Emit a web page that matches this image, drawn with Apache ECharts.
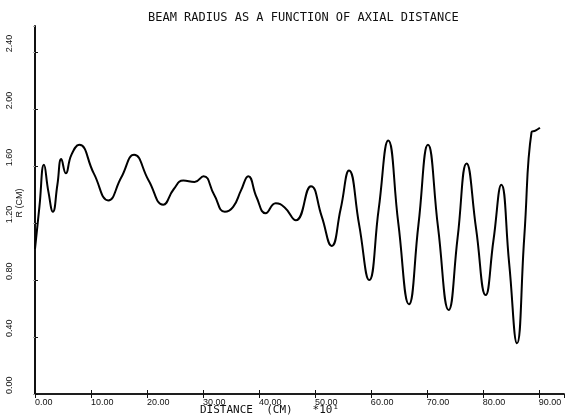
<!DOCTYPE html>
<html>
<head>
<meta charset="utf-8">
<script src="https://cdn.jsdelivr.net/npm/echarts@6/dist/echarts.min.js"></script>
<style>
html,body{margin:0;padding:0;background:#fff;}
#c{width:565px;height:420px;}
</style>
</head>
<body>
<div id="c"></div>
<script>
// Axial distance (CM * 10^1) and beam radius R (CM)
var distance = [0, 0.8, 1.6, 2.4, 3.2, 4.0, 4.7, 5.5, 6.5, 7.9, 10.5, 13.1, 15.4, 17.7, 20.3, 22.9, 24.8, 26.5, 28.5, 30.1, 32.0, 33.9, 35.4, 36.8, 38.1, 39.6, 41.2, 43.0, 44.6, 46.6, 49.3, 51.2, 53.0, 54.6, 56.1, 57.9, 59.7, 61.4, 63.1, 64.9, 66.8, 68.5, 70.2, 72.0, 73.9, 75.5, 77.1, 78.8, 80.5, 81.9, 83.3, 84.7, 86.1, 87.4, 88.7, 89.4, 90.2];
var radius = [1.02, 1.32, 1.61, 1.42, 1.28, 1.47, 1.65, 1.55, 1.68, 1.75, 1.55, 1.36, 1.52, 1.68, 1.50, 1.33, 1.44, 1.50, 1.49, 1.53, 1.40, 1.28, 1.315, 1.43, 1.53, 1.38, 1.27, 1.34, 1.31, 1.22, 1.46, 1.25, 1.04, 1.30, 1.57, 1.19, 0.80, 1.30, 1.78, 1.20, 0.63, 1.19, 1.75, 1.17, 0.59, 1.10, 1.62, 1.16, 0.695, 1.08, 1.47, 0.92, 0.356, 1.10, 1.84, 1.85, 1.87];
var xTicks = [0, 10, 20, 30, 40, 50, 60, 70, 80, 90];
var yTicks = [0, 0.4, 0.8, 1.2, 1.6, 2.0, 2.4];

var titleText = 'BEAM RADIUS AS A FUNCTION OF AXIAL DISTANCE';
var xName = 'DISTANCE  (CM)   *10¹';
var yName = 'R (CM)';

var pts = distance.map(function (d, i) { return [d, radius[i]]; });

function fmtX(v) {
  for (var i = 0; i < xTicks.length; i++) if (Math.abs(xTicks[i] - v) < 1e-6) return v.toFixed(2);
  return '';
}
function fmtY(v) {
  for (var i = 0; i < yTicks.length; i++) if (Math.abs(yTicks[i] - v) < 1e-6) return v.toFixed(2);
  return '';
}

var chart = echarts.init(document.getElementById('c'), null, {renderer: 'canvas'});
var font = 'DejaVu Sans Mono';
var ink = '#111';
chart.setOption({
  backgroundColor: '#fff',
  animation: false,
  title: {
    text: titleText,
    left: 143, top: 7,
    textStyle: {fontFamily: font, fontSize: 12, fontWeight: 'normal', color: ink}
  },
  grid: {left: 35, right: 1, top: 26, bottom: 26},
  xAxis: [{
    type: 'value', min: 0, max: 94.5, interval: 10, position: 'bottom',
    axisLine: {show: true, lineStyle: {color: ink, width: 1.5}},
    axisTick: {show: true, inside: true, length: 4, lineStyle: {color: ink, width: 1}},
    axisLabel: {show: true, formatter: fmtX, align: 'left', margin: 4, showMaxLabel: false,
      fontFamily: 'Liberation Sans', fontSize: 9, color: ink},
    splitLine: {show: false}
  }, {
    type: 'value', min: 0, max: 94.5, interval: 10, position: 'top',
    axisLine: {show: true, lineStyle: {color: ink, width: 1.5}},
    axisTick: {show: true, inside: true, length: 4, lineStyle: {color: ink, width: 1}},
    axisLabel: {show: false}, splitLine: {show: false}
  }],
  yAxis: [{
    type: 'value', min: 0, max: 2.585, interval: 0.4, position: 'left',
    axisLine: {show: true, lineStyle: {color: ink, width: 2}},
    axisTick: {show: true, inside: true, length: 3, lineStyle: {color: ink, width: 1}},
    axisLabel: {show: true, formatter: fmtY, rotate: 90, align: 'left', verticalAlign: 'middle',
      margin: 25, showMaxLabel: false, fontFamily: 'Liberation Sans', fontSize: 9, color: ink},
    splitLine: {show: false}
  }, {
    type: 'value', min: 0, max: 2.585, interval: 0.4, position: 'right',
    axisLine: {show: false},
    axisTick: {show: true, inside: true, length: 2, lineStyle: {color: '#aaa', width: 1}},
    axisLabel: {show: false}, splitLine: {show: false}
  }],
  graphic: [{
    type: 'text', left: 200, top: 405,
    style: {text: xName, font: '11px "DejaVu Sans Mono"', fill: ink}
  }, {
    type: 'text', x: 20, y: 203, rotation: Math.PI / 2,
    style: {text: yName, font: '9px "Liberation Sans"', fill: ink, align: 'center', verticalAlign: 'middle'}
  }],
  series: [{
    type: 'line', data: pts, xAxisIndex: 0, yAxisIndex: 0,
    smooth: 0.5, showSymbol: false, symbol: 'none',
    lineStyle: {color: '#000', width: 2}
  }]
});
</script>
</body>
</html>
